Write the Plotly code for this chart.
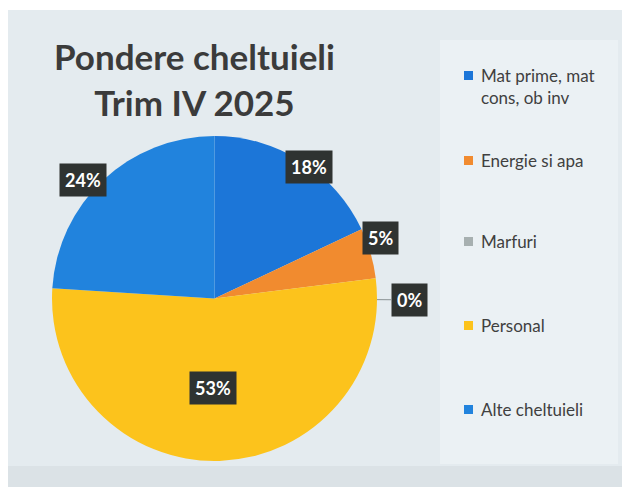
import math
import plotly.graph_objects as go

# date
categorii = ["Mat prime, mat<br>cons, ob inv", "Energie si apa", "Marfuri", "Personal", "Alte cheltuieli"]
procente = [18, 5, 0, 53, 24]
culori = ["#1c76d8", "#f18b2f", "#a7b0b0", "#fcc31c", "#2183dd"]
etichete = ["18%", "5%", "0%", "53%", "24%"]

W, H = 622, 487
# pozitia pie in pixeli
cx, cy, R = 214.5, 298.5, 162.5


def px(x):
    return x / W


def py(y):
    return 1 - y / H


fig = go.Figure()
fig.add_trace(go.Pie(
    labels=categorii,
    values=procente,
    marker=dict(colors=culori, line=dict(width=0)),
    sort=False,
    direction="clockwise",
    rotation=0,
    textinfo="none",
    hoverinfo="label+percent",
    showlegend=False,
    domain=dict(x=[px(cx - R), px(cx + R)], y=[py(cy + R), py(cy - R)]),
))

# fundal cadru
shapes = [
    dict(type="rect", xref="paper", yref="paper", x0=px(8), x1=1, y0=0, y1=py(10),
         fillcolor="#e4ebef", line=dict(width=0), layer="below"),
    dict(type="rect", xref="paper", yref="paper", x0=px(440), x1=px(618), y0=py(464), y1=py(40),
         fillcolor="#ebf1f4", line=dict(width=0), layer="below"),
    dict(type="rect", xref="paper", yref="paper", x0=px(8), x1=1, y0=0, y1=py(466),
         fillcolor="#dbe2e6", line=dict(width=0), layer="below"),
]

annotations = []

# etichete procente: raza relativa si deplasare unghiulara fata de mijlocul feliei
raze = [1.0, 1.09, 1.2, 0.55, 1.09]
deplasari = [3.3, -3.8, 7.6, 2.8, -4.8]
total = sum(procente)
cumul = 0
for val, txt, rf, d in zip(procente, etichete, raze, deplasari):
    mid = (cumul + val / 2) / total * 2 * math.pi + math.radians(d)
    cumul += val
    lx = cx + rf * R * math.sin(mid)
    ly = cy - rf * R * math.cos(mid)
    a = dict(text="<b>" + txt + "</b>", xref="paper", yref="paper",
             xanchor="center", yanchor="middle",
             font=dict(family="Lato", size=18, color="white"),
             bgcolor="#2f3331", borderpad=5)
    if rf > 1:
        ex = cx + R * math.sin(mid)
        ey = cy - R * math.cos(mid)
        a.update(x=px(ex), y=py(ey), ax=lx - ex, ay=ly - ey, showarrow=True,
                 arrowhead=0, arrowwidth=1, arrowcolor="#8a9294")
    else:
        a.update(x=px(lx), y=py(ly), showarrow=False)
    annotations.append(a)

# legenda manuala
leg_y = [75, 160, 241, 325, 409]
for nume, col, y in zip(categorii, culori, leg_y):
    shapes.append(dict(type="rect", xref="paper", yref="paper",
                       x0=px(464), x1=px(473), y0=py(y + 5), y1=py(y - 4),
                       fillcolor=col, line=dict(width=0)))
    annotations.append(dict(text=nume, xref="paper", yref="paper", x=px(479), y=py(y - 12),
                            xanchor="left", yanchor="top", align="left", showarrow=False,
                            font=dict(family="Lato", size=17, color="#404040")))

# titlu
annotations.append(dict(text="<b>Pondere cheltuieli<br>Trim IV 2025</b>", xref="paper", yref="paper",
                        x=px(194.5), y=py(79), xanchor="center", yanchor="middle", showarrow=False,
                        font=dict(family="Lato", size=35, color="#3b3b3b")))

fig.update_layout(
    width=W, height=H,
    margin=dict(l=0, r=0, t=0, b=0),
    paper_bgcolor="white",
    plot_bgcolor="white",
    shapes=shapes,
    annotations=annotations,
)

# fara marginea implicita a paginii
fig.write_html("out.html", config={"displayModeBar": False},
               post_script="document.body.style.margin='0';")
